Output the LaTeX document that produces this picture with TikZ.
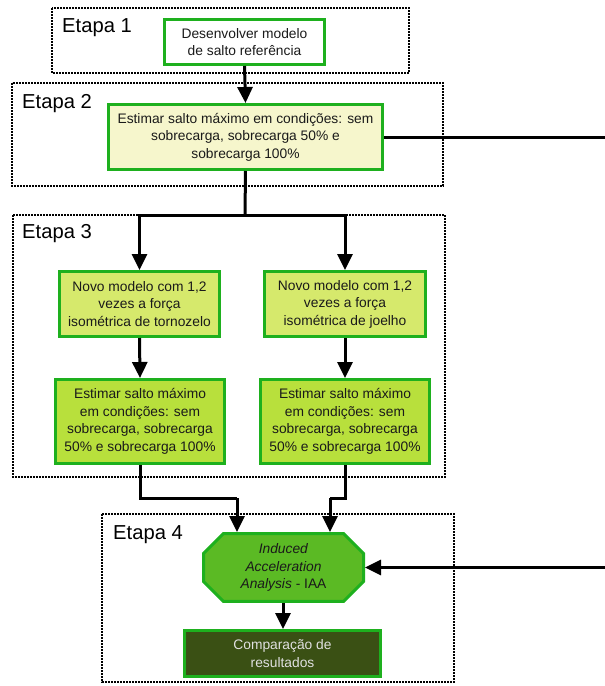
\documentclass[tikz,border=0pt]{standalone}
\usepackage{fontspec}
\setmainfont{Liberation Sans}
\usetikzlibrary{arrows.meta,shapes.misc}
\definecolor{gborder}{HTML}{1EB01E}
\definecolor{fillB}{HTML}{F6F6CC}
\definecolor{fillC}{HTML}{D6E96C}
\definecolor{fillD}{HTML}{B8E03C}
\definecolor{fillE}{HTML}{5BBA24}
\definecolor{fillF}{HTML}{3A5014}
\definecolor{txt}{HTML}{1A1A1A}
\begin{document}
\begin{tikzpicture}[x=1pt,y=-1pt,
  box/.style={draw=gborder,line width=3pt,rectangle,align=center,inner sep=0pt,
    font=\fontsize{13.8}{17.5}\selectfont,text=txt},
  stage/.style={draw=black,line width=1.8pt,dash pattern=on 1.8pt off 1.2pt},
  stagelbl/.style={anchor=west,inner sep=0pt,font=\fontsize{20.2}{24}\selectfont,text=black},
  conn/.style={line width=3pt,draw=black},
  arr/.style={conn,-{Triangle[length=16pt,width=15pt]}}]
\useasboundingbox (0,0) rectangle (605,686);
% stage frames
\draw[stage] (52,8) rectangle (409,73);
\draw[stage] (12,83) rectangle (443,186);
\draw[stage] (13,215) rectangle (445,477);
\draw[stage] (102,514) rectangle (454,682);
\node[stagelbl] (e1) at (62,28) {Etapa 1};
\node[stagelbl] (e2) at (22,104) {Etapa 2};
\node[stagelbl] (e3) at (22,234) {Etapa 3};
\node[stagelbl] (e4) at (113,535) {Etapa 4};
% boxes
\node[box,fill=white,minimum width=160pt,minimum height=45pt] (b1) at (244.5,42) {Desenvolver modelo\\de salto referência};
\node[box,fill=fillB,minimum width=274pt,minimum height=65pt] (b2) at (245.5,137) {Estimar salto máximo em condições: sem\\sobrecarga, sobrecarga 50\% e\\sobrecarga 100\%};
\node[box,fill=fillC,minimum width=160pt,minimum height=65pt] (b3a) at (139.5,304) {Novo modelo com 1,2\\vezes a força\\isométrica de tornozelo};
\node[box,fill=fillC,minimum width=161pt,minimum height=65pt] (b3b) at (345,304) {Novo modelo com 1,2\\vezes a força\\isométrica de joelho};
\node[box,fill=fillD,minimum width=169pt,minimum height=84pt] (b4a) at (140,421.5) {Estimar salto máximo\\em condições: sem\\sobrecarga, sobrecarga\\50\% e sobrecarga 100\%};
\node[box,fill=fillD,minimum width=169pt,minimum height=84pt] (b4b) at (345,421.5) {Estimar salto máximo\\em condições: sem\\sobrecarga, sobrecarga\\50\% e sobrecarga 100\%};
\node[box,chamfered rectangle,chamfered rectangle xsep=10pt,chamfered rectangle ysep=10pt,fill=fillE,minimum width=160pt,minimum height=66pt,inner sep=0pt] (iaa) at (283.5,567.5) {\textit{Induced}\\\textit{Acceleration}\\\textit{Analysis} - IAA};
\node[box,fill=fillF,text=white!88!black,minimum width=196pt,minimum height=46pt] (cmp) at (282.5,653.5) {Comparação de\\resultados};
% coordinates
\coordinate (split) at (245,215);
\coordinate (ja) at (237,498);
\coordinate (jb) at (330,498);
\coordinate (r1) at (605,137);
\coordinate (r2) at (605,567.5);
% connectors
\draw[arr] (b1.south) -- (b2.north);
\draw[conn] (b2.south) -- (split);
\draw[arr] (split) -| (b3a.north);
\draw[arr] (split) -| (b3b.north);
\draw[arr] (b3a.south) -- (b4a.north);
\draw[arr] (b3b.south) -- (b4b.north);
\draw[conn] (b4a.south) |- (ja);
\draw[arr] (ja) -- (ja |- iaa.north);
\draw[conn] (b4b.south) |- (jb);
\draw[arr] (jb) -- (jb |- iaa.north);
\draw[conn] (b2.east) -- (r1);
\draw[arr] (r2) -- (iaa.east);
\draw[arr] (iaa.south -| 283,0) -- (cmp.north -| 283,0);
\end{tikzpicture}
\end{document}
